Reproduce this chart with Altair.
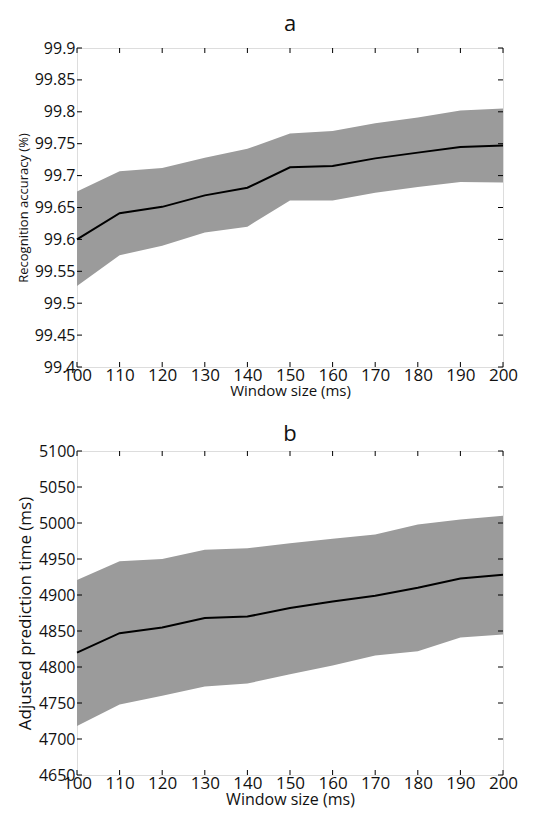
import altair as alt
import pandas as pd

window = [100, 110, 120, 130, 140, 150, 160, 170, 180, 190, 200]

acc_mean = [99.600, 99.641, 99.651, 99.669, 99.681, 99.713, 99.715, 99.727, 99.736, 99.745, 99.747]
acc_upper = [99.675, 99.707, 99.712, 99.728, 99.742, 99.766, 99.770, 99.782, 99.791, 99.802, 99.805]
acc_lower = [99.527, 99.575, 99.590, 99.611, 99.620, 99.661, 99.661, 99.673, 99.682, 99.690, 99.689]

time_mean = [4820, 4847, 4855, 4868, 4870, 4882, 4891, 4899, 4910, 4923, 4928]
time_upper = [4921, 4947, 4950, 4963, 4965, 4972, 4978, 4984, 4998, 5005, 5010]
time_lower = [4718, 4748, 4760, 4773, 4777, 4790, 4802, 4816, 4822, 4841, 4845]

x_ticks = [100, 110, 120, 130, 140, 150, 160, 170, 180, 190, 200]
acc_ticks = [99.4, 99.45, 99.5, 99.55, 99.6, 99.65, 99.7, 99.75, 99.8, 99.85, 99.9]
time_ticks = [4650, 4700, 4750, 4800, 4850, 4900, 4950, 5000, 5050, 5100]

FONT = "Open Sans"
GREY = "#9b9b9b"
TICK = 5


def panel(title, mean, upper, lower, yticks, ydomain, ytitle, yfmt, W, H,
          ytitle_size, xtitle_size, toffset):
    df = pd.DataFrame({"w": window, "m": mean, "u": upper, "l": lower})
    xs = alt.Scale(domain=[100, 200], nice=False, zero=False)
    ys = alt.Scale(domain=ydomain, nice=False, zero=False)
    xaxis = alt.Axis(values=x_ticks, title="Window size (ms)", grid=False,
                     domain=False, ticks=False, labelFontSize=17,
                     labelPadding=0, titleFontSize=xtitle_size,
                     titleFontWeight="normal", titlePadding=0,
                     labelFont=FONT, titleFont=FONT, labelColor="#111",
                     titleColor="#111", labelFlush=False, labelOverlap=False,
                     labelBound=False)
    yaxis = alt.Axis(values=yticks, title=ytitle, grid=False, domain=False,
                     ticks=False, labelFontSize=16, labelPadding=2,
                     format=yfmt, titleFontSize=ytitle_size,
                     titleFontWeight="normal", titlePadding=4,
                     labelFont=FONT, titleFont=FONT, labelColor="#111",
                     titleColor="#111", labelOverlap=False, labelBound=False,
                     labelFlush=False)
    area = alt.Chart(df).mark_area(color=GREY, opacity=1).encode(
        x=alt.X("w:Q", scale=xs, axis=xaxis),
        y=alt.Y("l:Q", scale=ys, axis=yaxis),
        y2="u:Q",
    )
    line = alt.Chart(df).mark_line(color="black", strokeWidth=2).encode(
        x=alt.X("w:Q", scale=xs, axis=xaxis),
        y=alt.Y("m:Q", scale=ys, axis=yaxis),
    )
    xt = pd.DataFrame({"t": x_ticks})
    yt = pd.DataFrame({"t": yticks})
    xb = alt.Chart(xt).mark_rule(color="black", strokeWidth=1).encode(
        x=alt.X("t:Q", scale=xs, axis=xaxis), y=alt.value(H), y2=alt.value(H - TICK))
    xtop = alt.Chart(xt).mark_rule(color="black", strokeWidth=1).encode(
        x=alt.X("t:Q", scale=xs, axis=xaxis), y=alt.value(0), y2=alt.value(TICK))
    yl = alt.Chart(yt).mark_rule(color="black", strokeWidth=1).encode(
        y=alt.Y("t:Q", scale=ys, axis=yaxis), x=alt.value(0), x2=alt.value(TICK))
    yr = alt.Chart(yt).mark_rule(color="black", strokeWidth=1).encode(
        y=alt.Y("t:Q", scale=ys, axis=yaxis), x=alt.value(W), x2=alt.value(W - TICK))
    return alt.layer(area, line, xb, xtop, yl, yr).properties(
        width=W, height=H,
        title=alt.TitleParams(title, fontSize=22, fontWeight="normal",
                              font=FONT, anchor="middle", offset=toffset,
                              color="#111"),
    )


pa = panel("a", acc_mean, acc_upper, acc_lower, acc_ticks, [99.4, 99.9],
           "Recognition accuracy (%)", ".2~f", 426, 319, 13, 15, 4)
pb = panel("b", time_mean, time_upper, time_lower, time_ticks, [4650, 5100],
           "Adjusted prediction time (ms)", "d", 426, 324, 17, 16, -3)

chart = alt.vconcat(pa, pb, spacing=23).configure_view(
    stroke="black", strokeWidth=1.2
).configure_axis(
    labelOverlap=False
).configure(background="white", padding={"left": 7, "top": 4, "right": 5, "bottom": 2})

chart.save("out.html", embed_options={"renderer": "svg", "actions": False})
